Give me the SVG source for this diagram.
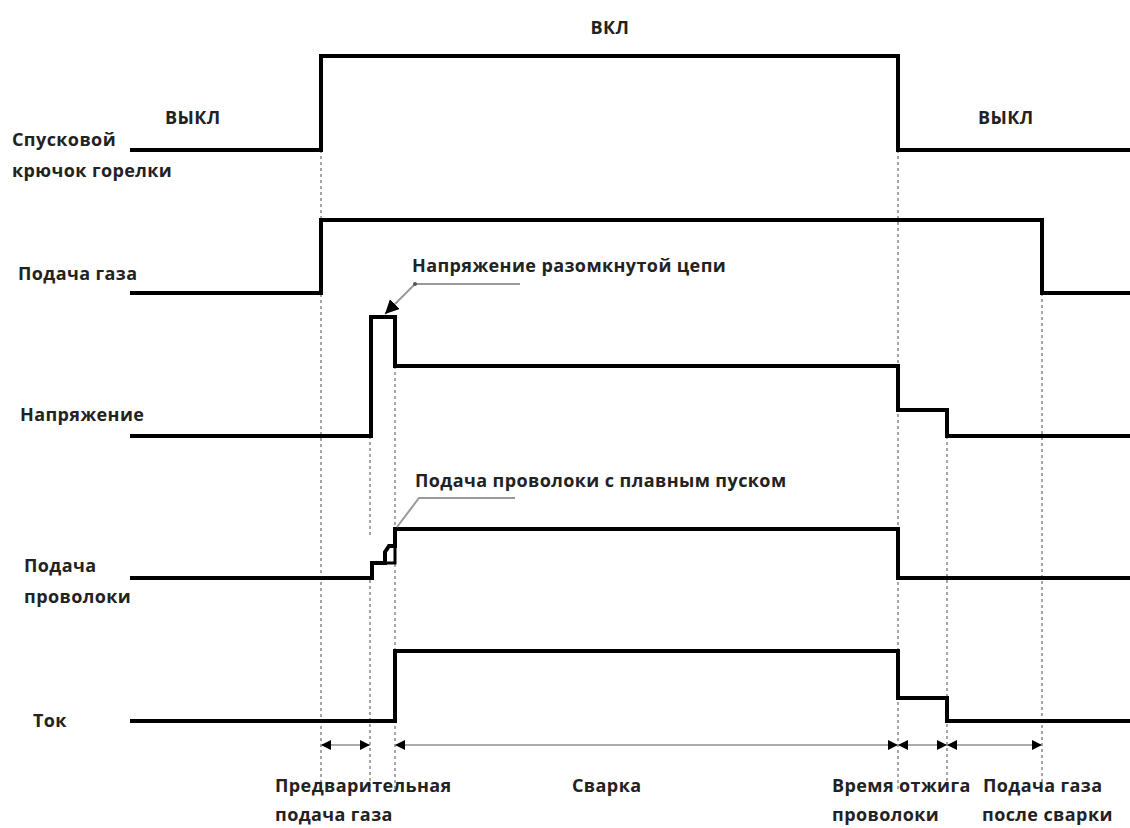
<svg xmlns="http://www.w3.org/2000/svg" width="1130" height="828" viewBox="0 0 1130 828">
<defs>
<style>
.t{font-family:"Open Sans","Liberation Sans",sans-serif;font-weight:700;font-size:18px;letter-spacing:0.4px;fill:#222}
.sig{fill:none;stroke:#000;stroke-width:4;stroke-linejoin:miter}
.dash{stroke:#888;stroke-width:1.5;stroke-dasharray:3,3;fill:none}
.dim{stroke:#aaa;stroke-width:2;fill:none}
.lead{stroke:#999;stroke-width:2;fill:none}
</style>
<marker id="ah" viewBox="0 0 10 10" refX="10" refY="5" markerWidth="10" markerHeight="10" markerUnits="userSpaceOnUse" orient="auto-start-reverse">
<path d="M0,0 L10,5 L0,10 Z" fill="#000"/>
</marker>
<marker id="ah2" viewBox="0 0 10 10" refX="10" refY="5" markerWidth="14" markerHeight="14" markerUnits="userSpaceOnUse" orient="auto">
<path d="M0,0 L10,5 L0,10 Z" fill="#000"/>
</marker>
</defs>
<rect width="1130" height="828" fill="#fff"/>
<g id="guides">
<line class="dash" x1="321" y1="150" x2="321" y2="792"/>
<line class="dash" x1="370" y1="436" x2="370" y2="535"/>
<line class="dash" x1="370" y1="580" x2="370" y2="792"/>
<line class="dash" x1="395" y1="366" x2="395" y2="792"/>
<line class="dash" x1="898" y1="150" x2="898" y2="792"/>
<line class="dash" x1="947" y1="436" x2="947" y2="792"/>
<line class="dash" x1="1042" y1="293" x2="1042" y2="792"/>
</g>
<g id="trigger">
<path class="sig" d="M130,150 H321 V56 H898 V150 H1130"/>
<text class="t" x="165" y="124">ВЫКЛ</text>
<text class="t" x="610" y="34" text-anchor="middle">ВКЛ</text>
<text class="t" x="978" y="124">ВЫКЛ</text>
<text class="t" x="12" y="146">Спусковой</text>
<text class="t" x="12" y="177">крючок горелки</text>
</g>
<g id="gas">
<path class="sig" d="M130,293 H321 V220 H1042 V293 H1130"/>
<text class="t" x="18" y="280">Подача газа</text>
</g>
<g id="voltage">
<path class="sig" d="M130,436 H371 V317 H395 V366 H898 V410 H947 V436 H1130"/>
<text class="t" x="20" y="421">Напряжение</text>
</g>
<g id="wire">
<path class="sig" d="M130,578 H372 V563 H385 V552 L389,546 H395 V529 H898 V578 H1130"/>
<path class="sig" d="M385,563 H395 V529" style="stroke-width:3"/>
<text class="t" x="24" y="572">Подача</text>
<text class="t" x="24" y="603">проволоки</text>
</g>
<g id="current">
<path class="sig" d="M130,721 H395 V651 H898 V698 H947 V721 H1130"/>
<text class="t" x="33" y="727">Ток</text>
</g>
<g id="connectors">
<line class="dim" x1="321" y1="745" x2="370" y2="745" marker-start="url(#ah)" marker-end="url(#ah)"/>
<line class="dim" x1="395" y1="745" x2="898" y2="745" marker-start="url(#ah)" marker-end="url(#ah)"/>
<line class="dim" x1="898" y1="745" x2="947" y2="745" marker-start="url(#ah)" marker-end="url(#ah)"/>
<line class="dim" x1="947" y1="745" x2="1042" y2="745" marker-start="url(#ah)" marker-end="url(#ah)"/>
<polyline class="lead" points="520,284 415,284 385,314" marker-end="url(#ah2)"/>
<circle cx="415" cy="284" r="2" fill="#555"/>
<polyline class="lead" points="515,498 419,498 397,527"/>
</g>
<g id="labels">
<text class="t" x="412" y="272">Напряжение разомкнутой цепи</text>
<text class="t" x="415" y="487">Подача проволоки с плавным пуском</text>
<text class="t" x="275" y="792">Предварительная</text>
<text class="t" x="275" y="821">подача газа</text>
<text class="t" x="572" y="792">Сварка</text>
<text class="t" x="832" y="792">Время отжига</text>
<text class="t" x="832" y="821">проволоки</text>
<text class="t" x="983" y="792">Подача газа</text>
<text class="t" x="982" y="821">после сварки</text>
</g>
</svg>
